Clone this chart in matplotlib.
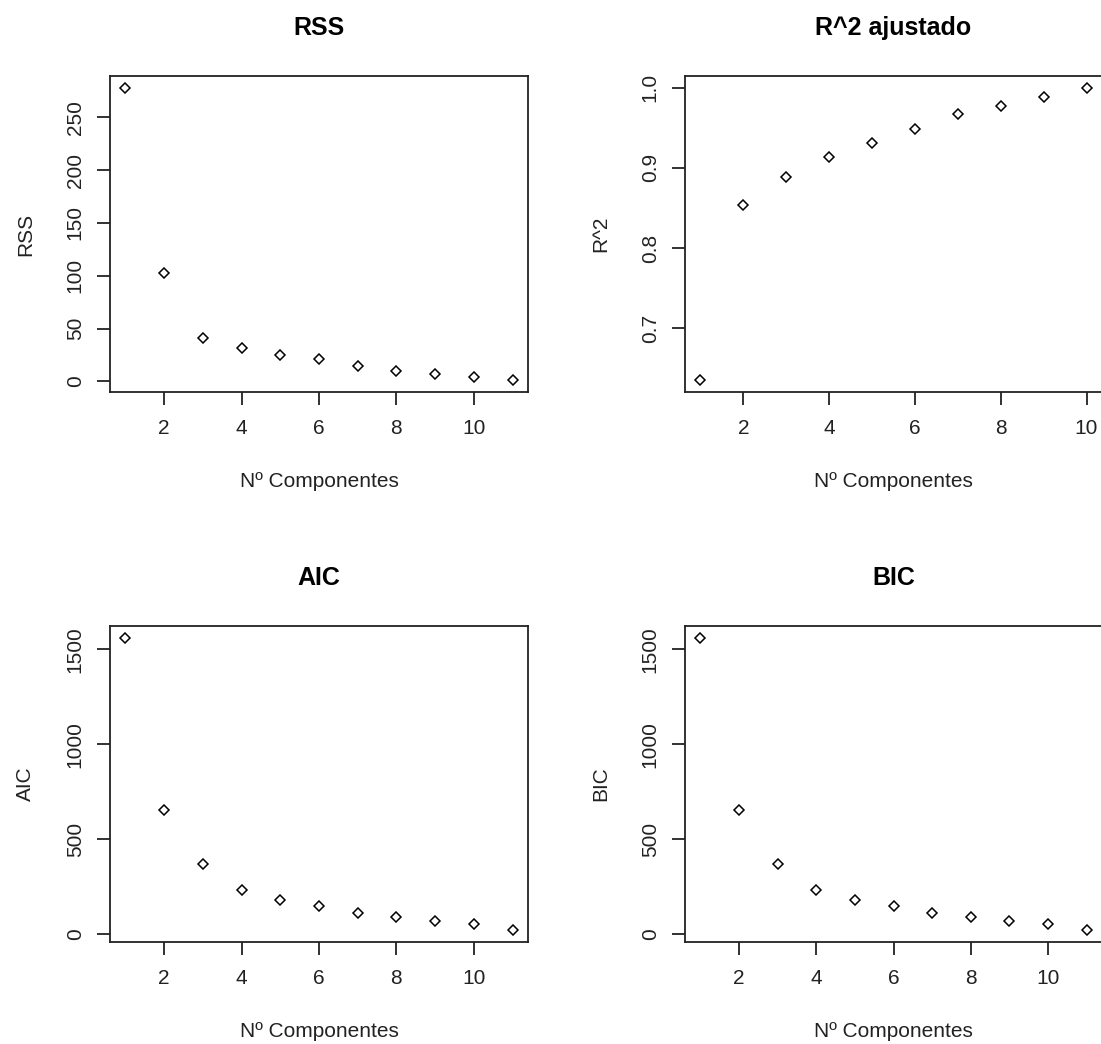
import numpy as np
import matplotlib
matplotlib.use("Agg")
import matplotlib.pyplot as plt

plt.rcParams['font.family'] = ['Liberation Sans', 'DejaVu Sans']

# valores
comp = [1, 2, 3, 4, 5, 6, 7, 8, 9, 10, 11]
comp_r2 = [1, 2, 3, 4, 5, 6, 7, 8, 9, 10]
rss = [278, 103, 40.6, 31.4, 25.3, 20.9, 14.9, 10.1, 7.0, 4.1, 1.0]
r2_adj = [0.635, 0.854, 0.888, 0.913, 0.931, 0.948, 0.967, 0.977, 0.989, 1.0]
aic = [1561, 655, 368, 232, 181, 148, 114, 90, 72, 55, 21]
bic = [1561, 655, 368, 232, 181, 148, 114, 90, 72, 55, 21]

x_ticks = [2, 4, 6, 8, 10]
rss_ticks = [0, 50, 100, 150, 200, 250]
r2_ticks = [0.7, 0.8, 0.9, 1.0]
ic_ticks = [0, 500, 1000, 1500]


def r_lim(v):
    # como R: rango de los datos +/- 4%
    lo, hi = min(v), max(v)
    d = (hi - lo) * 0.04
    return lo - d, hi + d


W, H = 1101, 1044
fig = plt.figure(figsize=(W / 100, H / 100), dpi=100)


def panel(left, top, right, bottom, x, y, yticks, title, ylab, ytickfmt):
    ax = fig.add_axes([left / W, 1 - bottom / H, (right - left) / W, (bottom - top) / H])
    ax.plot(x, y, linestyle='none', marker='D', markersize=5,
            markerfacecolor='none', markeredgecolor='black', markeredgewidth=1.1)
    ax.set_xlim(r_lim(x))
    ax.set_ylim(r_lim(y))
    ax.set_xticks(x_ticks)
    ax.set_yticks(yticks)
    ax.set_yticklabels([ytickfmt(t) for t in yticks])
    for s in ax.spines.values():
        s.set_linewidth(1.3)
        s.set_color('#222222')
    ax.tick_params(length=9.2, width=1.3, color='#222222', labelsize=15,
                   labelcolor='#222222')
    ax.tick_params(axis='x', pad=10)
    ax.tick_params(axis='y', pad=9, labelrotation=90)
    for lab in ax.get_yticklabels():
        lab.set_va('center')
    ax.set_title(title, fontsize=18, fontweight='bold', pad=29.5)
    ax.set_xlabel('Nº Componentes', fontsize=15, labelpad=25, color='#222222')
    ax.set_ylabel(ylab, fontsize=15, labelpad=22, color='#222222')
    return ax


panel(110, 76, 528, 392, comp, rss, rss_ticks, 'RSS', 'RSS', lambda t: f'{t:d}')
panel(685, 76, 1102, 392, comp_r2, r2_adj, r2_ticks, 'R^2 ajustado', 'R^2', lambda t: f'{t:.1f}')
panel(110, 626, 528, 942, comp, aic, ic_ticks, 'AIC', 'AIC', lambda t: f'{t:d}')
panel(685, 626, 1102, 942, comp, bic, ic_ticks, 'BIC', 'BIC', lambda t: f'{t:d}')

fig.savefig('out.png', dpi=100)
